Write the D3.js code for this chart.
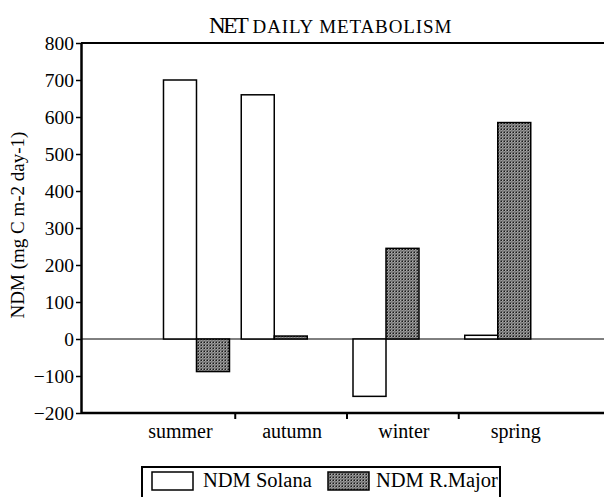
<!DOCTYPE html>
<html>
<head>
<meta charset="utf-8">
<script src="https://cdn.jsdelivr.net/npm/d3@7"></script>
<style>
  body { margin: 0; background: #fff; overflow: hidden; }
  svg text { font-family: "Liberation Serif", "DejaVu Serif", serif !important; }
</style>
</head>
<body>
<svg id="chart" width="604" height="497"></svg>
<script>
const seasons = ["summer", "autumn", "winter", "spring"];
const seriesNames = ["NDM Solana", "NDM R.Major"];
const solana = [700, 660, -155, 10];
const rMajor = [-88, 8, 245, 585];
const yTicks = [-200, -100, 0, 100, 200, 300, 400, 500, 600, 700, 800];

(function () {
const FONT = "'Liberation Serif', 'DejaVu Serif', serif";
const svg = d3.select("#chart");
const defs = svg.append("defs");
const pat = defs.append("pattern").attr("id", "dots").attr("patternUnits", "userSpaceOnUse")
  .attr("width", 3).attr("height", 3);
pat.append("rect").attr("width", 3).attr("height", 3).attr("fill", "#9c9c9c");
pat.append("rect").attr("x", 0).attr("y", 0).attr("width", 1).attr("height", 1).attr("fill", "#1a1a1a");
pat.append("rect").attr("x", 1.5).attr("y", 1.5).attr("width", 1).attr("height", 1).attr("fill", "#2a2a2a");
pat.append("rect").attr("x", 2).attr("y", 0).attr("width", 1).attr("height", 1).attr("fill", "#555");
pat.append("rect").attr("x", 0).attr("y", 2).attr("width", 1).attr("height", 1).attr("fill", "#555");
pat.append("rect").attr("x", 1).attr("y", 0.5).attr("width", 0.5).attr("height", 0.5).attr("fill", "#e0e0e0");

const mLeft = 81, mRight = 604, mTop = 43, mBottom = 413;
const y = d3.scaleLinear().domain([-200, 800]).range([mBottom, mTop]);
const x = d3.scaleBand().domain(seasons).range([123.5, 570.5]).padding(0);

// Title
const title = svg.append("text").attr("x", 209).attr("y", 33).attr("text-anchor", "start")
  .attr("font-family", FONT).attr("fill", "#000");
title.append("tspan").attr("font-size", 23).attr("letter-spacing", -2.4).text("NET");
title.append("tspan").attr("font-size", 19).attr("dx", 6).attr("letter-spacing", 0.9).text("DAILY METABOLISM");

// Y-axis label
svg.append("text")
  .attr("transform", `translate(24,${225}) rotate(-90)`)
  .attr("text-anchor", "middle").attr("font-size", 19).attr("font-family", FONT).attr("fill", "#000")
  .text("NDM (mg C m-2 day-1)");

// Zero line
svg.append("line").attr("x1", mLeft).attr("x2", mRight).attr("y1", y(0)).attr("y2", y(0))
  .attr("stroke", "#000").attr("stroke-width", 1);

// Bars
const barW = 33;
const series = [solana, rMajor];
const fills = ["#fff", "url(#dots)"];
seasons.forEach((s, i) => {
  const shift = s === "summer" ? 1.03 : 0; // original chart's summer group sits one bar to the right
  series.forEach((vals, j) => {
    const v = vals[i];
    const x0 = x(s) + 6 + (j + shift) * barW;
    svg.append("rect")
      .attr("x", x0).attr("width", barW)
      .attr("y", y(Math.max(0, v))).attr("height", Math.abs(y(v) - y(0)))
      .attr("fill", fills[j]).attr("stroke", "#000").attr("stroke-width", 1.5);
  });
});

// Y axis
const yAxis = d3.axisLeft(y).tickValues(yTicks).tickSize(5).tickSizeOuter(0).tickFormat(d3.format("d"));
const gy = svg.append("g").attr("transform", `translate(${mLeft},0)`).call(yAxis)
  .attr("font-family", FONT).attr("font-size", 19.5);
gy.select(".domain").attr("stroke-width", 2.5);
gy.selectAll(".tick line").attr("stroke-width", 1.5);
gy.selectAll(".tick text").attr("fill", "#000").attr("x", -7).attr("dy", "0.34em");

// Top line
svg.append("line").attr("x1", mLeft).attr("x2", mRight).attr("y1", mTop).attr("y2", mTop)
  .attr("stroke", "#000").attr("stroke-width", 2);

// Bottom axis
svg.append("line").attr("x1", mLeft).attr("x2", mRight).attr("y1", mBottom).attr("y2", mBottom)
  .attr("stroke", "#000").attr("stroke-width", 2.5);
seasons.slice(1).forEach(s => {
  svg.append("line").attr("x1", x(s)).attr("x2", x(s)).attr("y1", mBottom).attr("y2", mBottom + 6)
    .attr("stroke", "#000").attr("stroke-width", 2);
});
seasons.forEach(s => {
  svg.append("text").attr("x", x(s) + x.bandwidth() / 2 + 1).attr("y", 438)
    .attr("text-anchor", "middle").attr("font-size", 20).attr("font-family", FONT)
    .attr("fill", "#000").text(s);
});

// Legend
const lg = svg.append("g");
lg.append("path").attr("d", "M142,500 L142,467 L500,467 L500,500")
  .attr("fill", "none").attr("stroke", "#000").attr("stroke-width", 2);
const legendX = [152, 328];
const legendTextX = [203, 376];
seriesNames.forEach((n, j) => {
  lg.append("rect").attr("x", legendX[j]).attr("y", 472).attr("width", 41).attr("height", 18)
    .attr("fill", fills[j]).attr("stroke", "#000").attr("stroke-width", 1.5);
  lg.append("text").attr("x", legendTextX[j]).attr("y", 487).attr("font-size", 20.5)
    .attr("font-family", FONT).attr("fill", "#000").text(n);
});
})();
</script>
</body>
</html>
